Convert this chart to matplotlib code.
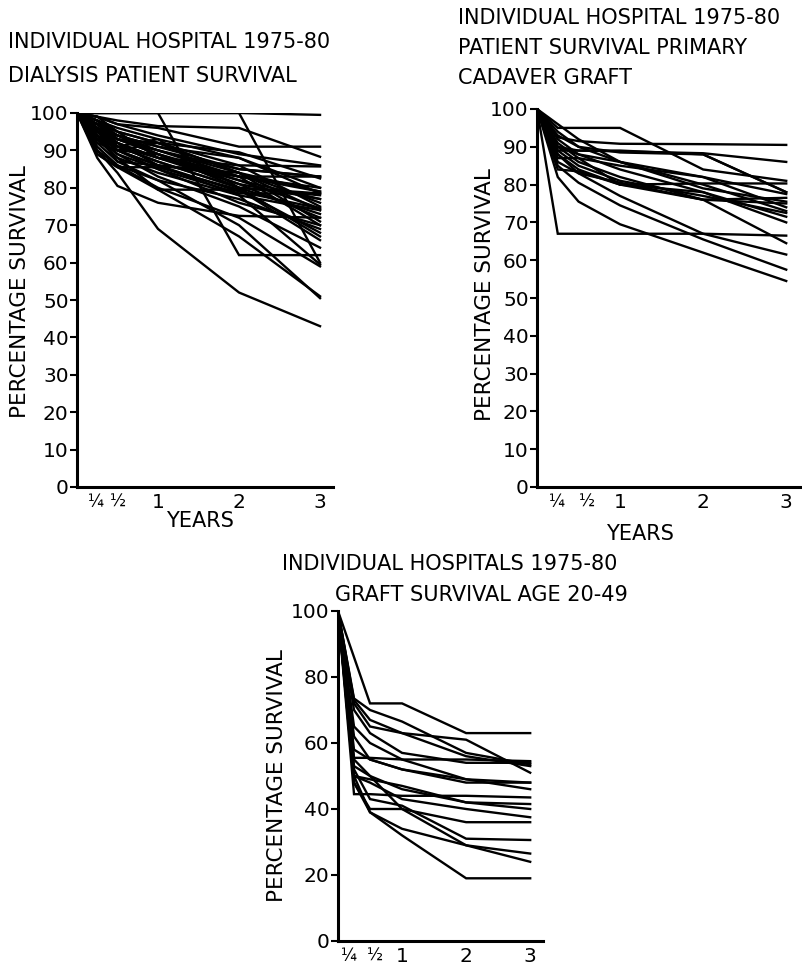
import matplotlib
matplotlib.use("Agg")
import matplotlib.pyplot as plt

W, H = 802, 967

# time points (years) at which each hospital's survival is recorded
YEARS = [0, 0.25, 0.5, 1, 2, 3]
XTICK_LABELS = ["\u00bc", "\u00bd", "1", "2", "3"]

# dialysis patient survival, one row per hospital
DIALYSIS = [
    [100, 100, 100, 100, 100, 99.5],
    [100, 99, 98, 96.5, 96, 88.3],
    [100, 99, 97, 96, 91, 91],
    [100, 100, 100, 100, 62, 62],
    [100, 100, 100, 100, 100, 60],
    [100, 98, 95, 92, 86, 85.7],
    [100, 97, 93, 90, 85, 83],
    [100, 96, 92, 88, 83, 83],
    [100, 97, 94, 91, 88, 78.5],
    [100, 95, 91, 87, 80, 78.5],
    [100, 94, 89, 85, 78.5, 78.5],
    [100, 96, 93, 89, 82, 74.5],
    [100, 95, 90, 86, 79, 74.5],
    [100, 93, 88, 84, 78, 74],
    [100, 97, 92, 88, 81, 72],
    [100, 94, 90, 85, 76, 70],
    [100, 92, 87, 82, 77, 69],
    [100, 96, 91, 87, 80, 67],
    [100, 93, 89, 83, 75, 64],
    [100, 95, 90, 86, 78, 59.5],
    [100, 91, 86, 80, 72, 59],
    [100, 90, 86, 82, 70, 50.5],
    [100, 93, 88, 79.5, 67, 51],
    [100, 90, 84, 69, 52, 43],
    [100, 88, 80.5, 76, 72.5, 72],
    [100, 89, 85.5, 85.5, 79.5, 68],
    [100, 98, 96, 93, 88, 80],
    [100, 99, 97, 94, 89, 86],
    [100, 97, 95, 92, 84, 76],
    [100, 95, 93, 90, 83, 80],
    [100, 96, 94, 91, 85, 83],
    [100, 98, 94, 90, 84, 79],
    [100, 94, 91, 88, 82, 77],
    [100, 97, 93, 89, 83, 70],
    [100, 89, 85.5, 79.5, 79.5, 66],
    [100, 98, 93, 92, 89.5, 82.5],
    [100, 95, 94, 89, 80, 78],
    [100, 92, 90, 92, 84, 74],
    [100, 99, 95, 88, 86, 75],
    [100, 96, 90, 89, 81, 77],
    [100, 93, 92, 86, 84, 71],
    [100, 98, 91, 93, 80, 73],
    [100, 94, 87, 86, 83, 79],
]

# patient survival, primary cadaver graft
CADAVER = [
    [100, 95, 95, 95, 84, 81],
    [100, 92.5, 91.5, 90.8, 90.7, 90.5],
    [100, 90, 89, 88.8, 88.3, 86],
    [100, 93, 90, 88.5, 88, 78],
    [100, 87, 87, 85, 82, 77.5],
    [100, 84, 83.5, 80, 80.3, 80.3],
    [100, 91, 87, 80, 76, 75],
    [100, 89, 85, 81, 77, 72.5],
    [100, 88, 84, 80, 78, 71.5],
    [100, 92, 88, 84, 78, 70],
    [100, 94, 90, 86, 82, 74],
    [100, 86, 83, 80.5, 76, 76.5],
    [100, 90, 88, 86, 80, 73],
    [100, 67, 67, 67, 67, 66.5],
    [100, 82, 75.5, 69.5, 62, 54.5],
    [100, 85, 80.5, 74.5, 65.5, 57.5],
    [100, 88, 83, 77, 67, 61.5],
    [100, 90, 86, 82, 76, 64.5],
    [100, 96, 92, 86, 79, 75.5],
    [100, 89, 89, 89, 88, 78],
]

# graft survival, recipients aged 20-49
GRAFT = [
    [100, 86, 72, 72, 63, 63],
    [100, 73.5, 70, 66.5, 57, 53.5],
    [100, 73, 67, 63, 56, 53],
    [100, 72, 65, 63, 61, 51],
    [100, 70, 63, 57, 54, 54],
    [100, 55.5, 55.5, 55, 55, 54.5],
    [100, 62, 55, 52, 48, 48],
    [100, 58, 55, 52, 49, 46],
    [100, 50, 49, 47, 42, 41.5],
    [100, 44.5, 44.5, 44, 44, 43.5],
    [100, 53, 50, 46, 42, 40],
    [100, 50, 48, 43, 40, 37.5],
    [100, 48, 40, 40, 36, 36],
    [100, 52, 43, 41, 31, 30.6],
    [100, 50, 39, 34, 29, 26.5],
    [100, 48, 39, 32, 19, 19],
    [100, 55, 50, 40, 29, 24],
    [100, 65, 60, 55, 49, 48],
]

FONT = "DejaVu Sans"


def px_axes(fig, left, top, right, bottom):
    return fig.add_axes([left / W, 1 - bottom / H, (right - left) / W, (bottom - top) / H])


def ftext(fig, x, y, s, **kw):
    fig.text(x / W, 1 - y / H, s, family=FONT, **kw)


def panel(ax, rows, xmax, yticks, label_pos):
    for r in rows:
        ax.plot(YEARS, r, color="k", lw=1.7, solid_joinstyle="miter")
    ax.set_xlim(0, xmax)
    ax.set_ylim(0, 100)
    ax.set_yticks(yticks)
    ax.set_yticklabels([str(v) for v in yticks], family=FONT, fontsize=14.5)
    # year labels only, no tick marks on the time axis
    ax.set_xticks(label_pos)
    labs = ax.set_xticklabels(XTICK_LABELS, family=FONT, fontsize=14.5)
    for lab in labs[:2]:
        lab.set_fontsize(12)
    ax.tick_params(axis="y", length=5, width=1.5, pad=1, direction="out")
    ax.tick_params(axis="x", length=0, pad=4)
    for s in ("top", "right"):
        ax.spines[s].set_visible(False)
    for s in ("left", "bottom"):
        ax.spines[s].set_linewidth(2.2)


def main():
    fig = plt.figure(figsize=(W / 100, H / 100), dpi=100)

    ax1 = px_axes(fig, 77, 113, 333, 487)
    panel(ax1, DIALYSIS, 3.16, list(range(0, 101, 10)), [0.23, 0.51, 1, 2, 3])
    ax2 = px_axes(fig, 537, 109, 802, 487)
    panel(ax2, CADAVER, 3.19, list(range(0, 101, 10)), [0.24, 0.6, 1, 2, 3])
    ax3 = px_axes(fig, 338, 611, 543, 941)
    panel(ax3, GRAFT, 3.2, list(range(0, 101, 20)), [0.17, 0.58, 1, 2, 3])

    tk = dict(fontsize=15, ha="left", va="center")
    ftext(fig, 8, 42, "INDIVIDUAL HOSPITAL 1975-80", **tk)
    ftext(fig, 8, 76, "DIALYSIS PATIENT SURVIVAL", **tk)
    ftext(fig, 458, 18, "INDIVIDUAL HOSPITAL 1975-80", **tk)
    ftext(fig, 458, 48, "PATIENT SURVIVAL PRIMARY", **tk)
    ftext(fig, 458, 78, "CADAVER GRAFT", **tk)
    ftext(fig, 282, 564, "INDIVIDUAL HOSPITALS 1975-80", **tk)
    ftext(fig, 335, 595, "GRAFT SURVIVAL AGE 20-49", **tk)

    yk = dict(fontsize=15.5, rotation=90, ha="center", va="center")
    ftext(fig, 20, 292, "PERCENTAGE SURVIVAL", **yk)
    ftext(fig, 485, 295, "PERCENTAGE SURVIVAL", **yk)
    ftext(fig, 277, 776, "PERCENTAGE SURVIVAL", **yk)

    xk = dict(fontsize=15, ha="center", va="center")
    ftext(fig, 200, 521, "YEARS", **xk)
    ftext(fig, 640, 534, "YEARS", **xk)

    fig.savefig("out.png", dpi=100)


if __name__ == "__main__":
    main()
